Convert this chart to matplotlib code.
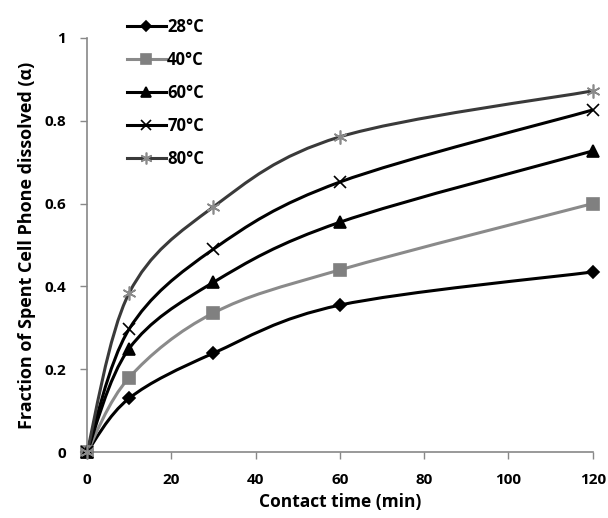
"""Fraction of spent cell phone dissolved vs contact time"""

import matplotlib
matplotlib.use("Agg")
import matplotlib.pyplot as plt
from matplotlib.path import Path
from matplotlib.patches import PathPatch

time_min = [0, 10, 30, 60, 120]
labels = ["28°C", "40°C", "60°C", "70°C", "80°C"]
frac_28 = [0.0, 0.13, 0.239, 0.355, 0.435]
frac_40 = [0.0, 0.18, 0.336, 0.44, 0.60]
frac_60 = [0.0, 0.25, 0.41, 0.555, 0.727]
frac_70 = [0.0, 0.297, 0.49, 0.652, 0.826]
frac_80 = [0.0, 0.384, 0.592, 0.761, 0.872]

series = [frac_28, frac_40, frac_60, frac_70, frac_80]
line_colors = ["black", "#8a8a8a", "black", "black", "#3a3a3a"]
marker_colors = ["black", "#808080", "black", "black", "#8a8a8a"]
markers = ["D", "s", "^", "x", (6, 2, 0)]
marker_sizes = [6, 8, 8, 8, 10]


def smooth_path(x, y, k=6.0):
    """Excel-like smoothed line as cubic Bezier segments"""
    verts = [(x[0], y[0])]
    codes = [Path.MOVETO]
    n = len(x)
    for i in range(n - 1):
        x0, y0 = (x[i - 1], y[i - 1]) if i > 0 else (x[i], y[i])
        x3, y3 = (x[i + 2], y[i + 2]) if i + 2 < n else (x[i + 1], y[i + 1])
        c1 = (x[i] + (x[i + 1] - x0) / k, y[i] + (y[i + 1] - y0) / k)
        c2 = (x[i + 1] - (x3 - x[i]) / k, y[i + 1] - (y3 - y[i]) / k)
        verts += [c1, c2, (x[i + 1], y[i + 1])]
        codes += [Path.CURVE4] * 3
    return Path(verts, codes)


plt.rcParams['font.family'] = ['Open Sans', 'DejaVu Sans']
plt.rcParams['font.weight'] = 'bold'

fig = plt.figure(figsize=(6.08, 5.18), dpi=100)
ax = fig.add_axes([0.143, 0.127, 0.832, 0.80])

for y, lab, lc, mc, mk, ms in zip(series, labels, line_colors,
                                   marker_colors, markers, marker_sizes):
    patch = PathPatch(smooth_path(time_min, y), facecolor="none",
                      edgecolor=lc, lw=2.2, transform=ax.transData,
                      clip_on=False, zorder=2)
    ax.add_patch(patch)
    ax.plot(time_min, y, linestyle="none", marker=mk, ms=ms, color=mc,
            mec=mc, mew=1.2, clip_on=False, zorder=3)
    # legend proxy
    ax.plot([], [], color=lc, lw=2.2, marker=mk, ms=ms * 0.85, mfc=mc,
            mec=mc, mew=1.2, label=lab)

ax.set_xlim(0, 120)
ax.set_ylim(0, 1)
ax.set_xticks([0, 20, 40, 60, 80, 100, 120])
ax.set_yticks([0, 0.2, 0.4, 0.6, 0.8, 1.0])
ax.set_yticklabels(["0", "0.2", "0.4", "0.6", "0.8", "1"])
ax.tick_params(axis="both", labelsize=11, color="#888888", length=5,
               width=1, direction="out")
ax.tick_params(axis="x", pad=10)
ax.tick_params(axis="y", pad=10)
for s in ["top", "right"]:
    ax.spines[s].set_visible(False)
for s in ["left", "bottom"]:
    ax.spines[s].set_color("#888888")
    ax.spines[s].set_linewidth(1.2)

ax.set_xlabel("Contact time (min)", fontsize=12.5, fontweight="bold")
ax.set_ylabel("Fraction of Spent Cell Phone dissolved (α)", fontsize=13,
              fontweight="bold", labelpad=6)

ax.legend(loc="upper left", bbox_to_anchor=(0.05, 1.085), frameon=False,
          fontsize=12, handlelength=2.3, handletextpad=0.1,
          labelspacing=0.9)

fig.savefig("out.png", dpi=100)
